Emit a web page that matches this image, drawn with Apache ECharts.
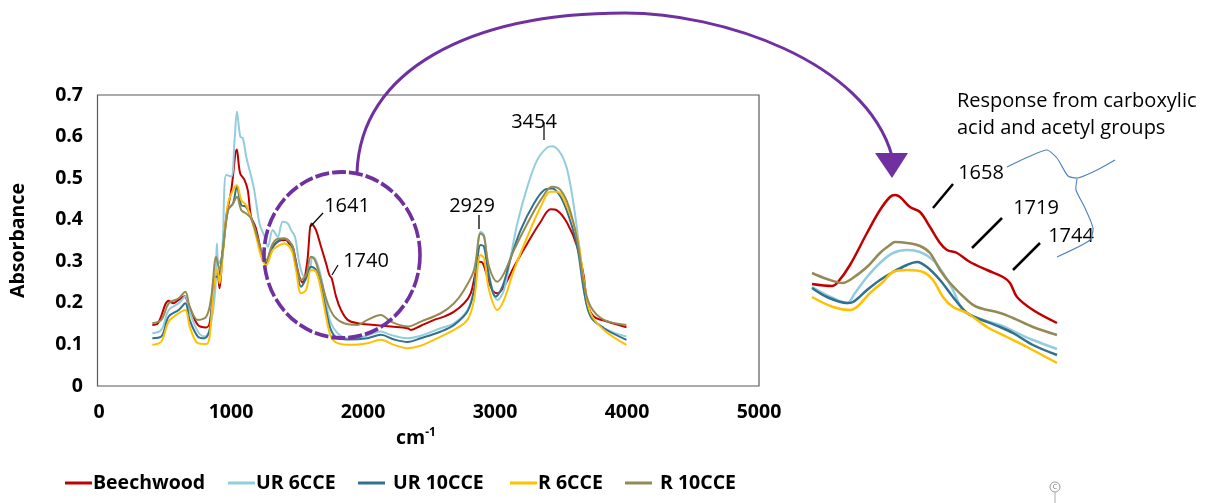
<!DOCTYPE html>
<html>
<head>
<meta charset="utf-8">
<script src="https://cdn.jsdelivr.net/npm/echarts@6/dist/echarts.min.js"></script>
<style>
html,body{margin:0;padding:0;background:#fff;}
#chart{width:1211px;height:503px;}
</style>
</head>
<body>
<div id="chart"></div>
<script>
// ---- Data ----
const seriesNames = ['Beechwood', 'UR 6CCE', 'UR 10CCE', 'R 6CCE', 'R 10CCE'];
const seriesColors = ['#C00000', '#93CDDD', '#31708F', '#FFC000', '#948A54'];
const yTickLabels = ['0', '0.1', '0.2', '0.3', '0.4', '0.5', '0.6', '0.7'];
const xTickLabels = ['0', '1000', '2000', '3000', '4000', '5000'];

// Main spectra: [wavenumber cm-1, absorbance]
const beechwood = [[404,0.147],[447,0.151],[528,0.205],[561,0.199],[604,0.207],[649,0.216],[674,0.199],[749,0.147],[813,0.141],[838,0.151],[876,0.247],[896,0.279],[913,0.235],[934,0.311],[964,0.407],[1002,0.471],[1044,0.569],[1069,0.512],[1102,0.496],[1127,0.471],[1152,0.407],[1185,0.383],[1215,0.343],[1240,0.303],[1266,0.295],[1303,0.327],[1354,0.347],[1417,0.351],[1442,0.342],[1467,0.335],[1485,0.311],[1518,0.263],[1543,0.249],[1576,0.295],[1611,0.391],[1644,0.375],[1682,0.335],[1720,0.295],[1745,0.267],[1763,0.259],[1796,0.215],[1833,0.183],[1884,0.159],[1959,0.151],[2085,0.147],[2211,0.143],[2337,0.139],[2362,0.135],[2438,0.145],[2539,0.159],[2614,0.167],[2690,0.179],[2766,0.199],[2816,0.223],[2854,0.275],[2879,0.299],[2904,0.297],[2942,0.263],[2980,0.231],[3018,0.223],[3068,0.239],[3144,0.287],[3245,0.343],[3346,0.395],[3421,0.425],[3472,0.422],[3547,0.392],[3623,0.335],[3673,0.263],[3699,0.199],[3749,0.167],[3850,0.155],[3996,0.141]];
const ur6cce = [[404,0.127],[472,0.135],[528,0.183],[604,0.199],[654,0.215],[687,0.179],[749,0.131],[800,0.119],[838,0.135],[881,0.231],[893,0.343],[906,0.295],[931,0.311],[964,0.508],[1002,0.504],[1027,0.592],[1045,0.660],[1070,0.600],[1090,0.596],[1115,0.552],[1140,0.520],[1171,0.480],[1191,0.440],[1216,0.391],[1254,0.359],[1279,0.335],[1317,0.375],[1354,0.359],[1392,0.395],[1430,0.391],[1455,0.375],[1485,0.359],[1518,0.295],[1556,0.263],[1594,0.275],[1619,0.311],[1644,0.303],[1682,0.263],[1720,0.199],[1757,0.151],[1808,0.127],[1884,0.115],[2009,0.119],[2135,0.131],[2211,0.123],[2337,0.115],[2438,0.121],[2589,0.139],[2690,0.151],[2791,0.183],[2841,0.231],[2891,0.371],[2917,0.363],[2942,0.295],[2980,0.231],[3018,0.207],[3068,0.231],[3119,0.311],[3169,0.391],[3245,0.479],[3320,0.544],[3396,0.574],[3434,0.577],[3497,0.560],[3547,0.520],[3598,0.431],[3648,0.311],[3686,0.207],[3749,0.159],[3850,0.135],[3996,0.119]];
const ur10cce = [[404,0.115],[472,0.119],[528,0.167],[604,0.183],[654,0.199],[687,0.159],[749,0.119],[800,0.115],[838,0.135],[876,0.263],[901,0.263],[931,0.311],[977,0.423],[1015,0.439],[1045,0.479],[1078,0.435],[1115,0.431],[1153,0.403],[1191,0.367],[1229,0.319],[1266,0.295],[1317,0.335],[1367,0.351],[1405,0.355],[1443,0.347],[1468,0.327],[1493,0.287],[1531,0.239],[1569,0.259],[1606,0.287],[1644,0.279],[1682,0.239],[1720,0.183],[1757,0.135],[1808,0.115],[1884,0.112],[2034,0.115],[2135,0.123],[2236,0.112],[2337,0.106],[2438,0.115],[2589,0.131],[2690,0.147],[2791,0.179],[2841,0.231],[2891,0.339],[2917,0.335],[2955,0.263],[3005,0.215],[3056,0.239],[3119,0.307],[3194,0.375],[3295,0.439],[3371,0.471],[3434,0.475],[3497,0.455],[3560,0.407],[3623,0.335],[3673,0.231],[3724,0.167],[3825,0.139],[3996,0.111]];
const r6cce = [[404,0.099],[472,0.107],[528,0.155],[604,0.175],[654,0.183],[687,0.143],[749,0.103],[813,0.101],[838,0.119],[876,0.263],[896,0.279],[913,0.247],[939,0.319],[977,0.439],[1015,0.471],[1045,0.483],[1078,0.447],[1115,0.435],[1153,0.403],[1191,0.359],[1229,0.311],[1266,0.291],[1317,0.327],[1367,0.339],[1405,0.343],[1443,0.335],[1468,0.319],[1493,0.279],[1531,0.223],[1569,0.231],[1606,0.279],[1644,0.275],[1682,0.231],[1720,0.167],[1757,0.119],[1808,0.103],[1909,0.099],[2034,0.103],[2135,0.111],[2236,0.099],[2337,0.091],[2438,0.097],[2589,0.119],[2690,0.135],[2791,0.159],[2841,0.207],[2891,0.315],[2917,0.307],[2955,0.231],[3018,0.183],[3068,0.207],[3144,0.279],[3245,0.359],[3346,0.431],[3421,0.467],[3472,0.467],[3547,0.431],[3623,0.359],[3673,0.255],[3724,0.175],[3825,0.135],[3996,0.099]];
const r10cce = [[404,0.151],[472,0.159],[528,0.199],[604,0.211],[654,0.227],[687,0.191],[749,0.159],[813,0.167],[851,0.215],[888,0.311],[913,0.279],[939,0.327],[977,0.423],[1015,0.439],[1045,0.455],[1078,0.423],[1115,0.415],[1153,0.403],[1191,0.367],[1229,0.327],[1266,0.303],[1317,0.343],[1367,0.355],[1405,0.355],[1443,0.347],[1468,0.335],[1493,0.295],[1531,0.255],[1569,0.267],[1606,0.311],[1636,0.303],[1682,0.255],[1732,0.199],[1783,0.167],[1858,0.151],[1959,0.147],[2034,0.159],[2135,0.171],[2211,0.155],[2337,0.143],[2438,0.155],[2589,0.175],[2690,0.199],[2766,0.231],[2841,0.279],[2891,0.367],[2917,0.359],[2955,0.287],[3018,0.251],[3068,0.271],[3144,0.327],[3245,0.391],[3346,0.447],[3434,0.479],[3497,0.471],[3560,0.431],[3623,0.351],[3673,0.247],[3724,0.191],[3825,0.159],[3996,0.147]];

// Inset (zoomed carbonyl region), relative scale
const insetBeechwood = [[1550,0.262],[1570,0.258],[1576,0.266],[1588,0.300],[1605,0.364],[1618,0.410],[1628,0.436],[1633,0.440],[1638,0.436],[1648,0.416],[1658,0.406],[1668,0.376],[1678,0.344],[1685,0.330],[1695,0.324],[1708,0.306],[1725,0.290],[1741,0.276],[1748,0.264],[1755,0.236],[1771,0.210],[1795,0.184]];
const insetUr6cce = [[1550,0.256],[1571,0.234],[1585,0.224],[1593,0.244],[1605,0.276],[1618,0.304],[1631,0.324],[1645,0.330],[1658,0.326],[1671,0.310],[1681,0.284],[1691,0.250],[1701,0.210],[1715,0.194],[1738,0.180],[1751,0.168],[1771,0.150],[1795,0.132]];
const insetUr10cce = [[1550,0.254],[1565,0.236],[1585,0.224],[1591,0.226],[1605,0.250],[1618,0.270],[1631,0.286],[1645,0.300],[1655,0.306],[1665,0.296],[1678,0.270],[1691,0.236],[1705,0.204],[1715,0.194],[1738,0.176],[1751,0.164],[1771,0.140],[1795,0.120]];
const insetR6cce = [[1550,0.236],[1571,0.216],[1588,0.210],[1596,0.218],[1608,0.244],[1621,0.266],[1631,0.286],[1645,0.290],[1661,0.286],[1671,0.270],[1681,0.236],[1691,0.216],[1705,0.204],[1725,0.176],[1745,0.156],[1765,0.136],[1795,0.104]];
const insetR10cce = [[1550,0.284],[1565,0.272],[1581,0.264],[1588,0.270],[1605,0.296],[1618,0.324],[1628,0.340],[1633,0.346],[1645,0.344],[1658,0.338],[1668,0.324],[1678,0.290],[1688,0.264],[1705,0.230],[1715,0.216],[1738,0.204],[1751,0.194],[1771,0.176],[1795,0.160]];

const mainData = [beechwood, ur6cce, ur10cce, r6cce, r10cce];
const insetData = [insetBeechwood, insetUr6cce, insetUr10cce, insetR6cce, insetR10cce];

// ---- Chart ----
const FONT = '"Open Sans", "Noto Sans", sans-serif';
const chart = echarts.init(document.getElementById('chart'), null, {renderer: 'canvas'});

const series = [];
mainData.forEach((d, i) => {
  series.push({
    name: seriesNames[i], type: 'line', xAxisIndex: 0, yAxisIndex: 0,
    data: d, showSymbol: false, smooth: 0.35,
    lineStyle: {color: seriesColors[i], width: 2}, itemStyle: {color: seriesColors[i]},
    emphasis: {disabled: true}, z: 2
  });
});
insetData.forEach((d, i) => {
  series.push({
    name: seriesNames[i], type: 'line', xAxisIndex: 1, yAxisIndex: 1,
    data: d, showSymbol: false, smooth: 0.35,
    lineStyle: {color: seriesColors[i], width: 2.5}, itemStyle: {color: seriesColors[i]},
    emphasis: {disabled: true}, z: 2
  });
});

const txt = (s, x, y, extra) => Object.assign({
  type: 'text', x: x, y: y, z: 20,
  style: Object.assign({text: s, fill: '#000', fontSize: 20, fontFamily: FONT, align: 'center', verticalAlign: 'middle'}, extra || {})
});
const seg = (x1, y1, x2, y2, color, w) => ({
  type: 'line', z: 20, shape: {x1: x1, y1: y1, x2: x2, y2: y2},
  style: {stroke: color || '#000', lineWidth: w || 1.2}
});

// one legend block per series, so each item sits where the reference puts it
const legendLeft = [60, 223, 353, 505, 620];
const legendTextPad = [-4, -4, 3, -4, 3];
const legends = seriesNames.map((n, i) => ({
  data: [n], left: legendLeft[i], top: 468, icon: 'rect', itemWidth: 27, itemHeight: 3,
  selectedMode: false,
  textStyle: {color: '#000', fontFamily: FONT, fontWeight: 'bold', fontSize: 19.5,
              padding: [0, 0, 0, legendTextPad[i]]}
}));

const option = {
  animation: false,
  backgroundColor: '#fff',
  grid: [
    {left: 97, right: 452, top: 95, bottom: 117},
    {left: 812, right: 149, top: 165, bottom: 138}
  ],
  xAxis: [
    {type: 'value', gridIndex: 0, min: 0, max: 5000, interval: 1000,
     axisLine: {show: false}, axisTick: {show: false}, splitLine: {show: false},
     axisLabel: {color: '#000', fontFamily: FONT, fontWeight: 'bold', fontSize: 19.5, margin: 16,
                 formatter: v => xTickLabels[Math.round(v / 1000)]}},
    {type: 'value', gridIndex: 1, min: 1550, max: 1800, show: false}
  ],
  yAxis: [
    {type: 'value', gridIndex: 0, min: 0, max: 0.7, interval: 0.1,
     axisLine: {show: false}, axisTick: {show: false}, splitLine: {show: false},
     axisLabel: {color: '#000', fontFamily: FONT, fontWeight: 'bold', fontSize: 19.5, margin: 16,
                 formatter: v => yTickLabels[Math.round(v * 10)]},
     name: 'Absorbance', nameLocation: 'middle', nameRotate: 90, nameGap: 71,
     nameTextStyle: {color: '#000', fontFamily: FONT, fontWeight: 'bold', fontSize: 19.5}},
    {type: 'value', gridIndex: 1, min: 0.1, max: 0.5, show: false}
  ],
  legend: legends,
  series: series,
  graphic: [
    // plot area border
    {type: 'rect', z: 1, shape: {x: 97.5, y: 95, width: 661.5, height: 291},
     style: {fill: 'none', stroke: '#595959', lineWidth: 1.2}},
    // x-axis title cm-1
    {type: 'text', x: 416, y: 438, z: 20,
     style: {text: '{a|cm}{b|-1}', align: 'center', verticalAlign: 'middle',
             rich: {a: {fontFamily: FONT, fontWeight: 'bold', fontSize: 19.5, fill: '#000', color: '#000'},
                    b: {fontFamily: FONT, fontWeight: 'bold', fontSize: 12, fill: '#000', color: '#000', verticalAlign: 'top', padding: [0, 0, 10, 0]}}}},
    // peak annotations, main chart
    txt('1641', 347, 206), seg(323, 213, 310, 227),
    txt('1740', 366, 261), seg(338, 265, 332, 275),
    txt('2929', 472, 206), seg(479, 215, 479, 229, '#595959', 2),
    txt('3454', 534, 122), seg(544, 122, 544, 140),
    // dashed circle
    {type: 'circle', z: 25, x: 342, y: 255, scaleY: 83 / 78, shape: {cx: 0, cy: 0, r: 78},
     style: {fill: 'none', stroke: '#7030A0', lineWidth: 3.6, lineDash: [14, 3]}},
    // curved arrow (two cubic pieces meeting at the apex)
    {type: 'bezierCurve', z: 25, shape: {x1: 357, y1: 173, cpx1: 360, cpy1: 70, cpx2: 470, cpy2: 13, x2: 625, y2: 13},
     style: {fill: 'none', stroke: '#7030A0', lineWidth: 3}},
    {type: 'bezierCurve', z: 25, shape: {x1: 625, y1: 13, cpx1: 720, cpy1: 13, cpx2: 865, cpy2: 60, x2: 892, y2: 156},
     style: {fill: 'none', stroke: '#7030A0', lineWidth: 3}},
    {type: 'polygon', z: 25, shape: {points: [[875,153],[908,153],[892,178]]}, style: {fill: '#7030A0'}},
    // inset annotations
    txt('Response from carboxylic', 957, 101, {align: 'left'}),
    txt('acid and acetyl groups', 957, 128, {align: 'left'}),
    txt('1658', 981, 173), seg(953, 184, 933, 208, '#000', 2.5),
    txt('1719', 1036, 208), seg(1002, 218, 972, 248, '#000', 2.5),
    txt('1744', 1071, 236), seg(1040, 243, 1013, 270, '#000', 2.5),
    {type: 'polyline', z: 21, shape: {smooth: 0.2, points: [[1007,167],[1028,157],[1047,150],[1057,158],[1068,176],[1078,178],[1097,170],[1115,160]]},
     style: {fill: 'none', stroke: '#4F81BD', lineWidth: 1.1}},
    {type: 'polyline', z: 21, shape: {smooth: 0.2, points: [[1077,179],[1076,190],[1085,208],[1093,228],[1090,240],[1057,257]]},
     style: {fill: 'none', stroke: '#4F81BD', lineWidth: 1.1}},
    // small rotate handle glyph
    {type: 'circle', z: 20, shape: {cx: 1055, cy: 487, r: 5}, style: {fill: '#fff', stroke: '#999', lineWidth: 1}},
    {type: 'text', x: 1055, y: 487, z: 21, style: {text: 'C', fontSize: 7, fontFamily: FONT, fill: '#777', align: 'center', verticalAlign: 'middle'}},
    seg(1055, 492, 1055, 503, '#aaa', 1)
  ]
};
chart.setOption(option);
</script>
</body>
</html>
